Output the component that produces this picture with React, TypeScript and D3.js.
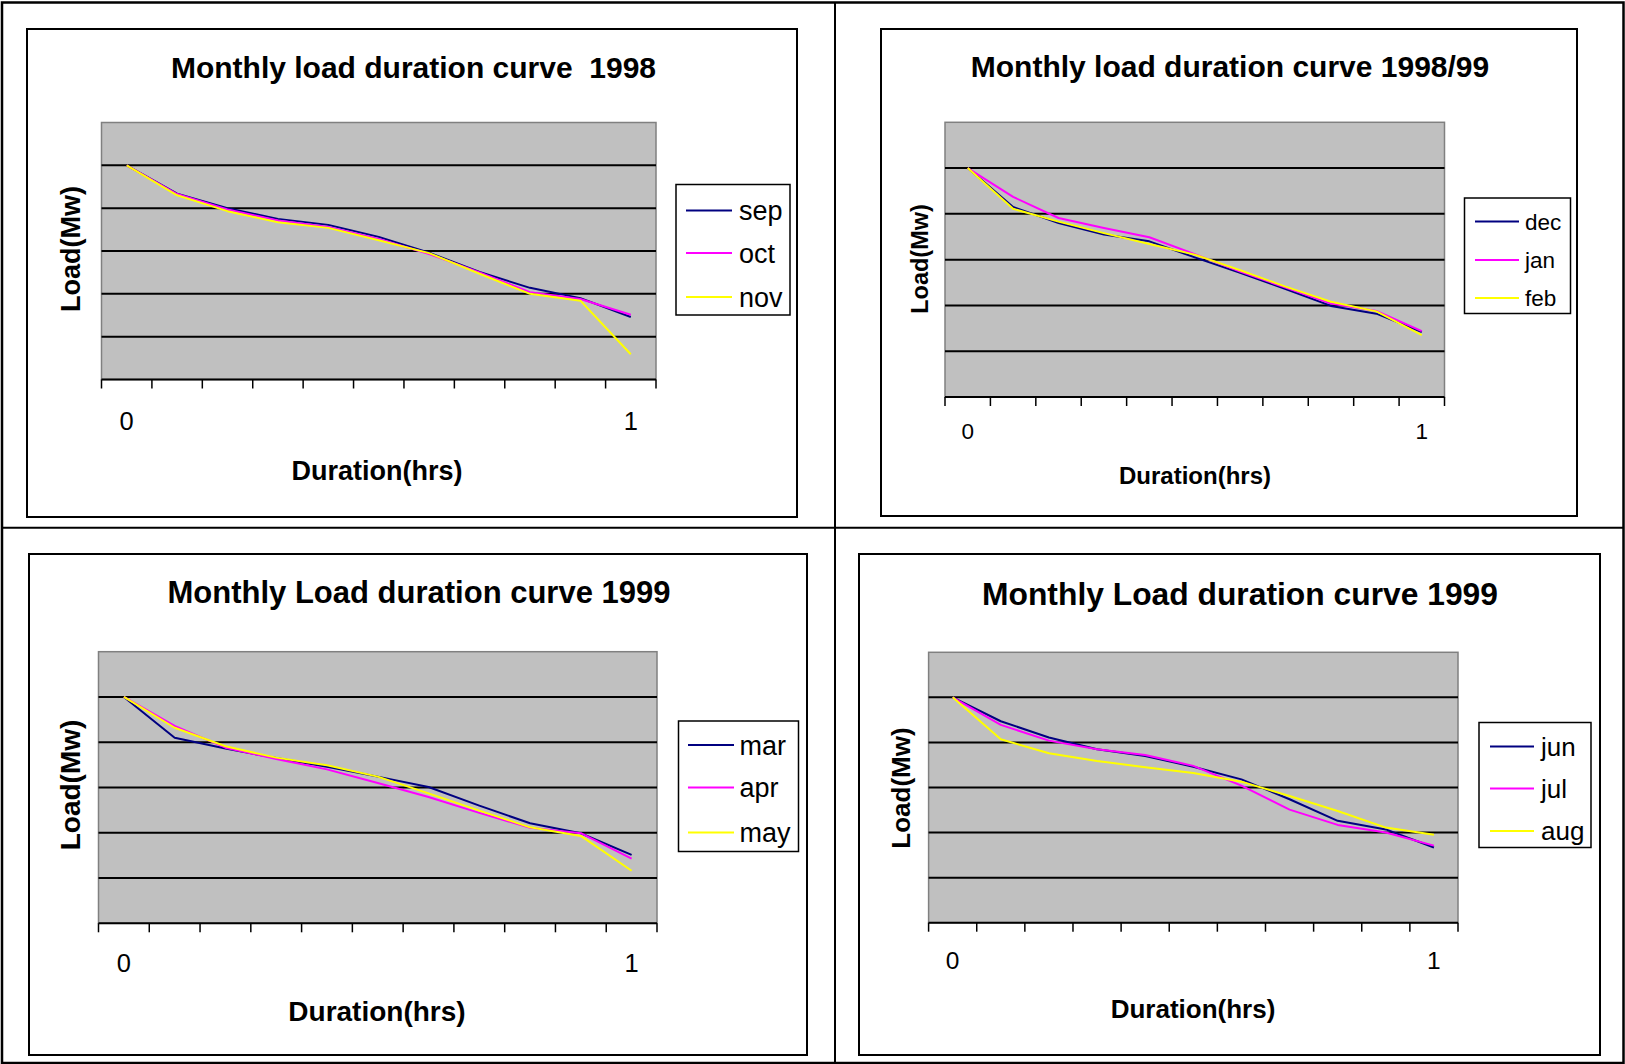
import React from 'react';
import * as d3 from 'd3';

// durations (categories) – only first and last are labelled on the axis
const durations = ['0', '0.1', '0.2', '0.3', '0.4', '0.5', '0.6', '0.7', '0.8', '0.9', '1'];
const shownTicks = ['0', '1'];

// load values, read in grid units (no value labels on the original)
const sep = [5.0, 4.34, 4.0, 3.75, 3.61, 3.33, 2.96, 2.51, 2.14, 1.9, 1.46];
const oct = [5.0, 4.33, 3.97, 3.71, 3.56, 3.28, 2.93, 2.5, 2.04, 1.88, 1.51];
const nov = [5.0, 4.3, 3.93, 3.67, 3.54, 3.25, 2.95, 2.47, 2.0, 1.84, 0.59];

const dec = [5.0, 4.15, 3.8, 3.55, 3.4, 3.05, 2.71, 2.36, 1.99, 1.82, 1.42];
const jan = [5.0, 4.37, 3.91, 3.69, 3.49, 3.12, 2.74, 2.39, 2.04, 1.88, 1.44];
const feb = [5.0, 4.11, 3.83, 3.58, 3.34, 3.11, 2.77, 2.41, 2.08, 1.87, 1.35];

const mar = [5.0, 4.1, 3.86, 3.65, 3.46, 3.24, 3.01, 2.6, 2.21, 1.99, 1.51];
const apr = [5.0, 4.36, 3.88, 3.63, 3.4, 3.1, 2.79, 2.44, 2.11, 1.99, 1.43];
const may = [5.0, 4.32, 3.91, 3.66, 3.49, 3.24, 2.87, 2.49, 2.12, 1.93, 1.16];

const jun = [5.0, 4.47, 4.11, 3.85, 3.7, 3.46, 3.18, 2.74, 2.26, 2.07, 1.67];
const jul = [5.0, 4.39, 4.04, 3.85, 3.72, 3.48, 3.04, 2.51, 2.17, 2.0, 1.71];
const aug = [5.0, 4.07, 3.76, 3.59, 3.45, 3.32, 3.13, 2.81, 2.48, 2.11, 1.95];

const yDomain = [0, 6];
const gridValues = [1, 2, 3, 4, 5];
const seriesColors = ['#000080', '#FF00FF', '#FFFF00'];

const FONT = '"Liberation Sans", Arial, sans-serif';

interface Panel {
  title: string;
  names: string[];
  values: number[][];
  frame: [number, number, number, number];
  plot: [number, number, number, number];
  titleX: number; titleY: number; titleSize: number;
  legend: [number, number, number, number];
  legendLineX: [number, number];
  legendYs: number[];
  legendTextX: number;
  legendSize: number;
  yLabelX: number; yLabelY: number; yLabelSize: number;
  xLabelX: number; xLabelY: number; xLabelSize: number;
  tickY: number; tickSize: number;
}

const panels: Panel[] = [
  {
    title: 'Monthly load duration curve  1998',
    names: ['sep', 'oct', 'nov'],
    values: [sep, oct, nov],
    frame: [27, 29, 797, 517],
    plot: [101.5, 122.5, 656, 379.5],
    titleX: 413.5, titleY: 77.5, titleSize: 30,
    legend: [676, 184.5, 790, 315],
    legendLineX: [686, 732],
    legendYs: [210.5, 253, 297],
    legendTextX: 739, legendSize: 27,
    yLabelX: 72.5, yLabelY: 249, yLabelSize: 27,
    xLabelX: 377, xLabelY: 480, xLabelSize: 27,
    tickY: 429.5, tickSize: 25.5,
  },
  {
    title: 'Monthly load duration curve 1998/99',
    names: ['dec', 'jan', 'feb'],
    values: [dec, jan, feb],
    frame: [881, 29, 1577, 516],
    plot: [945, 122.3, 1444.5, 397],
    titleX: 1230, titleY: 77, titleSize: 30,
    legend: [1464.5, 198, 1570.5, 313.5],
    legendLineX: [1475, 1519],
    legendYs: [221.5, 260, 298],
    legendTextX: 1525, legendSize: 22.5,
    yLabelX: 921.5, yLabelY: 259, yLabelSize: 23.5,
    xLabelX: 1195, xLabelY: 484, xLabelSize: 24,
    tickY: 438.5, tickSize: 22.5,
  },
  {
    title: 'Monthly Load duration curve 1999',
    names: ['mar', 'apr', 'may'],
    values: [mar, apr, may],
    frame: [29, 554, 807, 1055],
    plot: [98.5, 651.7, 657, 923.3],
    titleX: 419, titleY: 603, titleSize: 31,
    legend: [678.5, 721, 798.5, 851.5],
    legendLineX: [688, 734],
    legendYs: [745, 787.5, 832.5],
    legendTextX: 739.5, legendSize: 27,
    yLabelX: 72.5, yLabelY: 785, yLabelSize: 28,
    xLabelX: 377, xLabelY: 1021, xLabelSize: 28,
    tickY: 972, tickSize: 25.5,
  },
  {
    title: 'Monthly Load duration curve 1999',
    names: ['jun', 'jul', 'aug'],
    values: [jun, jul, aug],
    frame: [859, 554, 1600, 1055],
    plot: [928.6, 652.3, 1458, 922.7],
    titleX: 1240, titleY: 605, titleSize: 31.8,
    legend: [1479, 722.5, 1591, 847.5],
    legendLineX: [1490, 1534],
    legendYs: [746.5, 788.5, 831],
    legendTextX: 1541, legendSize: 26,
    yLabelX: 903, yLabelY: 788, yLabelSize: 26,
    xLabelX: 1193, xLabelY: 1018, xLabelSize: 26,
    tickY: 969, tickSize: 24.5,
  },
];

const ChartPanel: React.FC<{ p: Panel }> = ({ p }) => {
  const [px0, py0, px1, py1] = p.plot;
  const band = d3.scaleBand<string>().domain(durations).range([px0, px1]);
  const x = d3.scalePoint<string>().domain(durations).range([px0, px1]).padding(0.5);
  const y = d3.scaleLinear().domain(yDomain).range([py1, py0]);
  const line = d3
    .line<number>()
    .x((_, i) => x(durations[i]) as number)
    .y((d) => y(d));

  const tickXs = [...durations.map((d) => band(d) as number), px1];
  const [fx0, fy0, fx1, fy1] = p.frame;
  const [lx0, ly0, lx1, ly1] = p.legend;

  return (
    <g>
      {/* chart frame */}
      <rect x={fx0} y={fy0} width={fx1 - fx0} height={fy1 - fy0} fill="#fff" stroke="#000" strokeWidth={2} />
      <text
        x={p.titleX}
        y={p.titleY}
        textAnchor="middle"
        fontSize={p.titleSize}
        fontWeight="bold"
        fontFamily={FONT}
        style={{ whiteSpace: 'pre' }}
      >
        {p.title}
      </text>

      {/* plot area */}
      <rect x={px0} y={py0} width={px1 - px0} height={py1 - py0} fill="#C0C0C0" stroke="#808080" strokeWidth={1.5} />
      {gridValues.map((g) => (
        <line key={g} x1={px0} x2={px1} y1={y(g)} y2={y(g)} stroke="#000" strokeWidth={2} />
      ))}
      <line x1={px0} x2={px1} y1={py1} y2={py1} stroke="#000" strokeWidth={2} />
      {tickXs.map((t, i) => (
        <line key={i} x1={t} x2={t} y1={py1} y2={py1 + 9} stroke="#000" strokeWidth={1.5} />
      ))}
      {shownTicks.map((t) => (
        <text key={t} x={x(t)} y={p.tickY} textAnchor="middle" fontSize={p.tickSize} fontFamily={FONT}>
          {t}
        </text>
      ))}

      {/* series */}
      {p.values.map((vals, i) => (
        <path key={i} d={line(vals) || ''} fill="none" stroke={seriesColors[i]} strokeWidth={2} strokeLinejoin="round" />
      ))}

      {/* axis titles */}
      <text
        transform={`translate(${p.yLabelX},${p.yLabelY}) rotate(-90)`}
        textAnchor="middle"
        dominantBaseline="middle"
        fontSize={p.yLabelSize}
        fontWeight="bold"
        fontFamily={FONT}
      >
        Load(Mw)
      </text>
      <text x={p.xLabelX} y={p.xLabelY} textAnchor="middle" fontSize={p.xLabelSize} fontWeight="bold" fontFamily={FONT}>
        Duration(hrs)
      </text>

      {/* legend */}
      <rect x={lx0} y={ly0} width={lx1 - lx0} height={ly1 - ly0} fill="#fff" stroke="#000" strokeWidth={1.5} />
      {p.names.map((n, i) => (
        <g key={n}>
          <line x1={p.legendLineX[0]} x2={p.legendLineX[1]} y1={p.legendYs[i]} y2={p.legendYs[i]} stroke={seriesColors[i]} strokeWidth={2} />
          <text x={p.legendTextX} y={p.legendYs[i] + p.legendSize * 0.36} fontSize={p.legendSize} fontFamily={FONT}>
            {n}
          </text>
        </g>
      ))}
    </g>
  );
};

const App: React.FC = () => {
  const W = 1625;
  const H = 1064;
  return (
    <svg
      width={W}
      height={H}
      style={{ position: 'absolute', left: 0, top: 0, display: 'block', background: '#fff' }}
    >
      <rect x={0} y={0} width={W} height={H} fill="#fff" />
      {/* table borders */}
      <rect x={2} y={2.5} width={W - 3.5} height={H - 3.5} fill="none" stroke="#000" strokeWidth={2.5} />
      <line x1={835} x2={835} y1={2} y2={H} stroke="#000" strokeWidth={2} />
      <line x1={2} x2={W - 1} y1={527.7} y2={527.7} stroke="#000" strokeWidth={2} />
      {panels.map((p, i) => (
        <ChartPanel key={i} p={p} />
      ))}
    </svg>
  );
};

export default App;
